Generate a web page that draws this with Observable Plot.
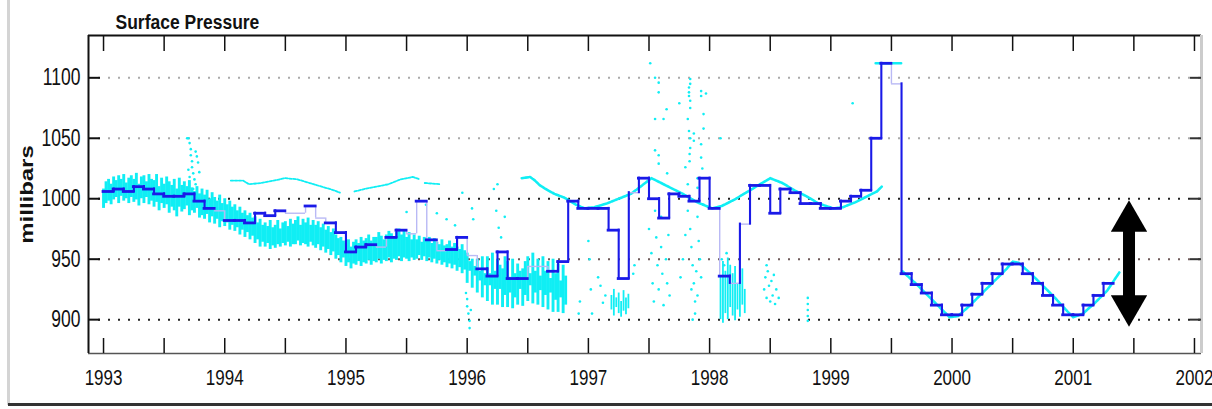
<!DOCTYPE html>
<html><head><meta charset="utf-8">
<script src="https://cdn.jsdelivr.net/npm/d3@7"></script>
<script src="https://cdn.jsdelivr.net/npm/@observablehq/plot@0.6"></script>
<style>
body{margin:0;background:#fff}
#wrap{position:relative;width:1212px;height:409px;overflow:hidden;background:#fff}
.bl{position:absolute;left:7px;top:0;width:3px;height:405px;background:#d4d4d4}
.bb{position:absolute;left:8px;top:403px;width:1204px;height:3px;background:#333}
</style></head><body><div id="wrap"><div class="bl"></div><div class="bb"></div></div>
<script>
// ---------------- data ----------------
const titleText = "Surface Pressure";
const yLabelText = "millibars";
const years = [1993, 1994, 1995, 1996, 1997, 1998, 1999, 2000, 2001, 2002];
const halfYearTicks = [1993, 1993.5, 1994, 1994.5, 1995, 1995.5, 1996, 1996.5, 1997, 1997.5,
  1998, 1998.5, 1999, 1999.5, 2000, 2000.5, 2001, 2001.5, 2002];
const yTicks = [900, 950, 1000, 1050, 1100];
const gridColors = ["#222", "#6e5a5a", "#222", "#aaa", "#aaa"];
const xDomain = [1992.876, 2002.058];
const yDomain = [872, 1135];

// monthly means (stairs), starting January 1993
const monthStart = 1993;
const monthlyMean = [
  1006, 1008, 1006, 1010, 1008, 1004, 1002, 1002, 1004, 998, 992, 990,
  982, 982, 980, 988, 986, 990, 988, 988, 994, 984, 980, 972,
  956, 960, 962, 960, 968, 974, 971, 998, 966, 957, 958, 968,
  953, 942, 936, 956, 934, 934, 944, 944, 940, 948, 998, 992,
  992, 992, 974, 934, 1005, 1017, 1000, 984, 1004, 1002, 998, 1017,
  992, 936, 930, 979, 1011, 1011, 988, 1008, 1005, 996, 996, 992,
  992, 998, 1002, 1007, 1050, 1112, 1095, 938, 929, 922, 912, 904,
  904, 912, 921, 930, 938, 946, 946, 938, 930, 920, 912, 904,
  904, 912, 920, 930
];
// months whose level is drawn only faintly
const weakMonths = [11, 18, 19, 21, 27, 30, 33, 36, 42, 43, 52, 62, 63, 78];
// month boundaries whose riser is drawn only faintly
const faintRisers = [11, 12, 18, 19, 20, 21, 22, 27, 28, 30, 31, 32, 33, 34, 36, 37, 42, 43, 44, 61, 78];

// dense band of observations 1993 - late 1996, 4 samples per month (low / high)
const bandStart = 1993;
const bandStep = 1 / 48;
const bandLo = [
  992,996,998,995, 999,1001,996,1002, 998,1000,996,1001, 997,999,994,1000, 996,1001,995,998, 993,997,990,996,
  992,995,988,993, 990,985,993,989, 991,994,986,990, 988,992,984,986, 983,987,980,985, 979,983,976,981,
  977,980,974,978, 973,976,970,974, 968,972,966,969, 963,966,960,964, 960,963,958,961, 959,962,960,963,
  961,964,960,962, 962,965,961,963, 962,960,964,961, 959,962,957,960, 955,958,953,956, 950,953,947,951,
  944,947,942,946, 945,948,944,947, 946,949,945,948, 947,950,946,949, 948,951,947,950, 949,952,948,951,
  950,948,951,949, 950,953,949,952, 948,951,947,950, 946,949,945,947, 943,946,942,945, 940,943,938,941,
  930,940,926,936, 922,932,918,928, 915,928,912,925, 912,925,910,920, 910,922,909,918, 912,925,911,920,
  915,928,913,922, 912,924,910,920, 908,922,906,916, 906,918,905,912
];
const bandHi = [
  1008,1014,1016,1012, 1018,1015,1019,1016, 1020,1013,1017,1019, 1016,1021,1012,1018, 1019,1014,1020,1016, 1015,1020,1010,1017,
  1012,1018,1014,1011, 1016,1008,1017,1011, 1014,1010,1015,1009, 1006,1010,1004,1008, 1003,1007,1000,1005, 1001,998,1003,996,
  1000,995,998,993, 995,990,993,988, 990,986,988,984, 985,980,983,978, 980,977,982,976, 978,982,975,980,
  981,977,983,979, 982,985,978,983, 980,984,978,982, 978,981,976,979, 974,977,972,975, 970,967,968,965,
  963,966,960,964, 966,963,968,965, 967,970,965,968, 968,972,969,966, 970,973,971,968, 972,975,970,974,
  968,972,966,970, 966,969,964,968, 965,968,963,967, 964,962,966,961, 962,965,960,963, 960,958,962,957,
  955,948,950,944, 950,940,952,938, 952,938,955,940, 950,945,942,952, 948,935,950,938, 946,940,942,948,
  952,938,955,940, 950,936,952,940, 948,934,950,938, 946,932,945,936
];

// short dense clusters [year, low, high]
const clusterBars = [
  [1997.19,908,920],[1997.21,903,925],[1997.23,910,918],[1997.25,905,922],[1997.27,902,915],
  [1997.29,907,924],[1997.31,904,918],[1997.33,909,921],
  [1998.09,900,935],[1998.11,897,948],[1998.13,905,940],[1998.15,900,951],[1998.17,910,945],
  [1998.19,903,938],[1998.21,899,944],[1998.23,908,930],[1998.25,902,935],[1998.27,912,942],[1998.29,905,925]
];

// isolated observations [year, value]
const scatterPts = [
  [1993.69,1050],[1993.70,1050],[1993.71,1046],[1993.72,1041],[1993.72,1036],[1993.73,1031],[1993.73,1026],
  [1993.74,1021],[1993.76,1039],[1993.77,1035],[1993.78,1030],[1993.75,1016],[1993.76,1012],[1993.70,1024],
  [1993.71,1018],[1993.74,1008],[1993.79,1022],
  [1995.50,989],[1995.66,995],[1995.75,988],[1995.83,983],[1995.90,978],[1995.96,1005],[1996.04,992],[1996.05,983],
  [1995.99,922],[1996.00,917],[1996.00,911],[1996.01,905],[1996.02,899],[1996.02,893],[1996.03,908],
  [1996.22,1008],[1996.24,990],[1996.25,1012],[1996.26,976],[1996.28,968],[1996.31,985],
  [1996.93,915],[1996.92,905],[1997.00,965],[1997.01,950],[1997.02,925],[1997.03,905],[1997.08,935],
  [1997.10,928],[1997.12,914],[1997.14,920],[1997.38,945],[1997.37,938],
  [1997.50,975],[1997.52,955],[1997.53,930],[1997.54,915],[1997.56,968],[1997.57,945],[1997.58,925],
  [1997.60,960],[1997.61,938],[1997.62,912],[1997.64,950],[1997.65,930],[1997.66,970],[1997.67,920],
  [1997.55,990],[1997.60,985],
  [1997.51,1112],[1997.55,1100],[1997.58,1096],[1997.58,1088],[1997.55,1066],[1997.62,1066],[1997.645,1074],
  [1997.55,1040],[1997.58,1036],[1997.58,1029],[1997.65,1021],[1997.75,1079],[1997.84,1099],[1997.84,1095],
  [1997.83,1092],[1997.83,1088],[1997.83,1085],[1997.84,1081],[1997.84,1075],[1997.82,1066],[1997.83,1056],
  [1997.84,1050],[1997.84,1042],[1997.835,1037],[1997.835,1031],[1997.80,1026],[1997.82,1012],[1997.87,1054],
  [1997.87,1048],[1997.93,1089],[1997.93,1085],[1997.97,1087],[1997.95,1070],[1997.95,1058],[1997.93,1045],
  [1997.93,1034],[1997.94,1025],[1997.90,1017],[1997.90,1009],[1998.09,1050],
  [1997.82,990],[1997.84,975],[1997.85,960],[1997.86,945],[1997.87,930],[1997.88,915],[1997.88,905],
  [1997.90,985],[1997.91,965],[1997.92,950],[1997.93,935],[1997.90,920],[1997.86,900],[1997.83,1000],
  [1997.95,995],[1997.80,970],[1997.78,950],[1997.76,935],[1997.89,940],[1997.85,925],
  [1998.10,950],[1998.12,945],[1998.14,955],
  [1998.45,925],[1998.46,935],[1998.47,918],[1998.48,940],[1998.49,928],[1998.50,915],[1998.51,932],
  [1998.52,920],[1998.53,937],[1998.54,913],[1998.55,925],[1998.57,918],[1998.47,945],
  [1998.81,918],[1998.81,913],[1998.81,908],[1998.81,903],[1998.81,899],
  [1999.18,1079]
];

// continuous traces of observations
const traceSegments = [
  [[1994.05,1015],[1994.15,1015],[1994.2,1012],[1994.3,1013],[1994.4,1015],[1994.5,1017],[1994.6,1016],
   [1994.7,1013],[1994.8,1010],[1994.9,1007],[1994.95,1005]],
  [[1995.07,1006],[1995.15,1008],[1995.25,1010],[1995.35,1012],[1995.45,1016],[1995.55,1018],[1995.61,1016]],
  [[1995.65,1013],[1995.78,1012]],
  [[1996.45,1017],[1996.52,1018],[1996.56,1015],[1996.6,1011],[1996.65,1008],[1996.72,1004],[1996.8,1001],
   [1996.9,995],[1996.97,992],[1997.05,993],[1997.15,996],[1997.25,1000],[1997.35,1004],[1997.43,1010],
   [1997.52,1017],[1997.6,1013],[1997.7,1008],[1997.78,1004],[1997.9,997],[1998.02,992],[1998.1,994],
   [1998.2,999],[1998.3,1005],[1998.4,1011],[1998.5,1017],[1998.6,1013],[1998.7,1007],[1998.8,1002],
   [1998.9,996],[1999.02,992],[1999.1,993],[1999.2,997],[1999.3,1002],[1999.38,1006],[1999.42,1010]],
  [[1999.37,1112],[1999.58,1112]],
  [[1999.59,940],[1999.7,930],[1999.8,920],[1999.9,910],[1999.98,902],[2000.05,903],[2000.15,912],
   [2000.25,922],[2000.35,932],[2000.45,942],[2000.5,948],[2000.55,947],[2000.65,938],[2000.75,928],
   [2000.85,918],[2000.95,907],[2001.0,902],[2001.08,905],[2001.18,914],[2001.28,924],[2001.38,939]]
];

// double-headed arrow annotation
const arrowX = 2001.46, arrowTop = 998, arrowBottom = 895;

// ---------------- derived tables ----------------
const cyan = "#10eef4", blue = "#1a1ae8", lav = "#b9b9f5";
const steps = monthlyMean.map((v, i) => ({x0: monthStart + i / 12, x1: monthStart + (i + 1) / 12, v, weak: weakMonths.includes(i)}));
const risers = steps.slice(1).map((s, j) => ({x: s.x0, y1: steps[j].v, y2: s.v, faint: faintRisers.includes(j + 1)}));
const band = bandLo.map((lo, i) => ({x: bandStart + i * bandStep, lo, hi: bandHi[i]}));
const clusters = clusterBars.map(([x, lo, hi]) => ({x, lo, hi}));
const pts = scatterPts.map(([x, y]) => ({x, y}));
const traces = traceSegments.flatMap((seg, k) => seg.map(([x, y]) => ({x, y, k})));
const grid = yTicks.map((y, i) => ({y, c: gridColors[i]}));

const W = 1212, H = 409, mL = 88, mT = 35, mR = 11, mB = 56;
const innerW = W - mL - mR, innerH = H - mT - mB;

const chart = Plot.plot({
  width: W, height: H,
  marginLeft: mL, marginTop: mT, marginRight: mR, marginBottom: mB,
  style: {fontFamily: "'Liberation Sans', Arial, sans-serif", fontSize: "17px", background: "#fff", color: "#111"},
  x: {domain: xDomain},
  y: {domain: yDomain},
  color: {type: "identity"},
  marks: [
    Plot.ruleY(grid, {y: "y", stroke: "c", strokeWidth: 2, strokeDasharray: "2,8", insetLeft: 10}),
    Plot.ruleX(band, {x: "x", y1: "lo", y2: "hi", stroke: cyan, strokeWidth: 2.9}),
    Plot.ruleX(clusters, {x: "x", y1: "lo", y2: "hi", stroke: cyan, strokeWidth: 1.8}),
    Plot.dot(pts, {x: "x", y: "y", r: 1.3, fill: cyan}),
    Plot.line(traces.filter(d => d.k < 3), {x: "x", y: "y", z: "k", stroke: cyan, strokeWidth: 1.8, strokeDasharray: "2.5,1.5"}),
    Plot.line(traces.filter(d => d.k >= 3), {x: "x", y: "y", z: "k", stroke: cyan, strokeWidth: 2.6, strokeDasharray: "3,1"}),
    // stairs: faint parts, then heavy parts
    Plot.ruleY(steps.filter(d => d.weak), {y: "v", x1: "x0", x2: "x1", stroke: lav, strokeWidth: 1.4}),
    Plot.ruleX(risers.filter(d => d.faint), {x: "x", y1: "y1", y2: "y2", stroke: lav, strokeWidth: 1.4}),
    Plot.ruleY(steps.filter(d => !d.weak), {y: "v", x1: "x0", x2: "x1", stroke: blue, strokeWidth: 2.8, strokeLinecap: "square"}),
    Plot.ruleX(risers.filter(d => !d.faint), {x: "x", y1: "y1", y2: "y2", stroke: blue, strokeWidth: 2.1, strokeLinecap: "square"}),
    // frame
    Plot.ruleY([yDomain[0]], {stroke: "#555", strokeWidth: 1.5}),
    Plot.ruleY([yDomain[1]], {stroke: "#111", strokeWidth: 2}),
    Plot.ruleX([xDomain[0]], {stroke: "#111", strokeWidth: 2}),
    Plot.ruleX([xDomain[1]], {stroke: "#ccc", strokeWidth: 3}),
    // inward ticks
    Plot.tickX(halfYearTicks, {x: d => d, insetTop: innerH - 15, stroke: "#111", strokeWidth: 1.5}),
    Plot.tickX(halfYearTicks, {x: d => d, insetBottom: innerH - 16, stroke: "#111", strokeWidth: 1.5}),
    Plot.tickY(yTicks, {y: d => d, insetRight: innerW - 12, stroke: "#111", strokeWidth: 2}),
    Plot.tickY(yTicks, {y: d => d, insetLeft: innerW - 11, stroke: "#333", strokeWidth: 2}),
    Plot.axisX({ticks: years, tickFormat: d => String(d), tickSize: 0, tickPadding: 16, label: null, fontSize: 17}),
    Plot.axisY({ticks: yTicks, tickFormat: d => String(d), tickSize: 0, tickPadding: 8, label: null, fontSize: 17.5}),
    // arrow
    Plot.ruleX([arrowX], {x: d => d, y1: arrowTop, y2: arrowBottom, stroke: "#000", strokeWidth: 12, insetTop: 26, insetBottom: 26}),
    Plot.dot([arrowX], {x: d => d, y: arrowTop, symbol: "triangle", r: 13.5, fill: "#000", dy: 20}),
    Plot.dot([arrowX], {x: d => d, y: arrowBottom, symbol: "triangle", r: 13.5, fill: "#000", dy: -20, rotate: 180}),
    // texts
    Plot.text([titleText], {text: d => d, frameAnchor: "top-left", dx: 27, dy: -7, lineAnchor: "bottom", textAnchor: "start", fontWeight: "bold", fontSize: 17.5}),
    Plot.text([yLabelText], {text: d => d, frameAnchor: "left", dx: -61, rotate: -90, textAnchor: "middle", lineAnchor: "middle", fontWeight: "bold", fontSize: 18})
  ]
});
// the source picture is stretched vertically: stretch the glyphs the same way
chart.querySelectorAll("text").forEach(t => {
  const tr = t.getAttribute("transform") || "";
  const rotated = /rotate\(/.test(tr);
  const bold = t.closest("[font-weight]") || t.getAttribute("font-weight");
  t.setAttribute("transform", tr + (rotated ? " scale(1.33,1)" : bold ? " scale(1,1.2)" : " scale(1,1.32)"));
});
document.getElementById("wrap").prepend(chart);
</script></body></html>
